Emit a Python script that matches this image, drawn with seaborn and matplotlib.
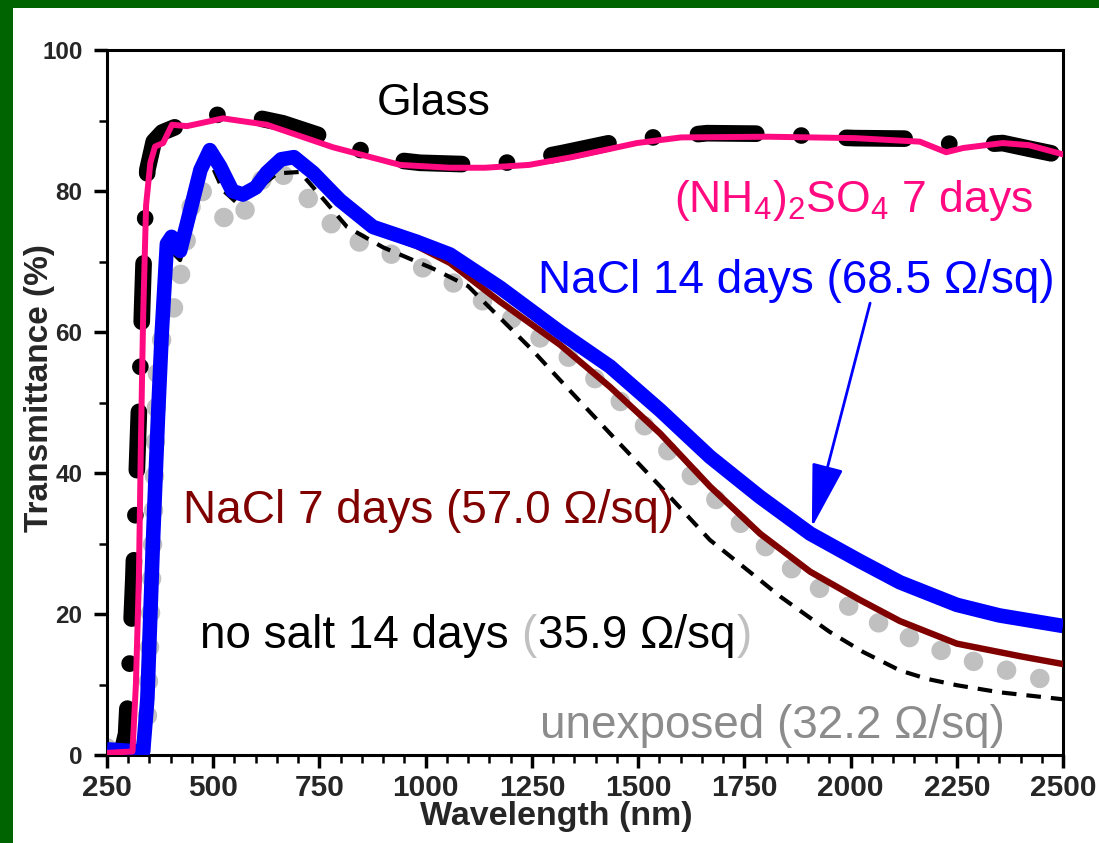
import matplotlib
matplotlib.use("Agg")
import matplotlib.pyplot as plt
from matplotlib.ticker import MultipleLocator
from matplotlib.patches import Rectangle
import numpy as np
import pandas as pd
import seaborn as sns

# ---------------- data ----------------
glass_wl = [250, 285, 295, 305, 312, 320, 327, 333, 339, 345, 360, 380, 420, 485, 570,
            664, 805, 897, 987, 1150, 1238, 1323, 1488, 1580, 1662, 1836, 1919, 2010,
            2173, 2260, 2358, 2420, 2500]
glass_T = [0.3, 0.5, 3, 15, 25, 40, 52, 64, 75, 83, 87, 88.3, 89.3, 90.8, 90.8,
           89.6, 86.8, 84.6, 84.0, 83.7, 84.4, 85.4, 87.5, 87.7, 88.2, 88.1, 87.7, 87.5,
           87.4, 86.4, 86.8, 86.0, 85.0]

nh4_wl = [250, 310, 318, 325, 330, 335, 342, 352, 363, 382, 403, 438, 523, 626, 782,
          940, 1057, 1140, 1243, 1344, 1497, 1601, 1806, 2010, 2163, 2225, 2265, 2358,
          2420, 2500]
nh4_T = [0.3, 0.5, 10, 25, 45, 62, 78, 84, 86.3, 86.8, 89.4, 89.2, 90.3, 89.4, 86.2,
         83.7, 83.3, 83.3, 83.7, 84.8, 86.8, 87.6, 87.7, 87.5, 87.0, 85.5, 86.1, 86.8,
         86.5, 85.2]

nacl14_wl = [250, 300, 335, 345, 358, 370, 379, 391, 402, 422, 445, 470, 492, 516, 545,
             570, 600, 626, 660, 690, 735, 798, 876, 979, 1057, 1175, 1316, 1434, 1552,
             1669, 1787, 1905, 2022, 2116, 2250, 2350, 2500]
nacl14_T = [0.8, 0.6, 0.5, 8, 30, 48, 60, 72.5, 73.5, 71.5, 77, 83, 85.8, 83.5, 80,
            79.5, 80.5, 82.6, 84.5, 84.8, 82.6, 78.7, 74.9, 72.8, 71.0, 66.3, 60.0, 55.1, 48.9,
            42.3, 36.6, 31.4, 27.5, 24.5, 21.3, 19.8, 18.3]

nacl7_wl = [250, 300, 335, 345, 358, 370, 379, 391, 402, 422, 445, 470, 492, 516, 545,
            570, 600, 626, 660, 690, 735, 798, 876, 979, 1057, 1175, 1316, 1434, 1552,
            1669, 1787, 1905, 2022, 2116, 2250, 2400, 2500]
nacl7_T = [0.6, 0.5, 0.4, 7, 29, 47, 59, 72, 73, 71, 76.6, 82.6, 85.4, 83.1, 79.6,
           79.1, 80.1, 82.2, 84.1, 84.4, 82.2, 78.3, 74.5, 72.2, 69.8, 64.3, 58.2, 52.2, 45.6,
           38.1, 31.4, 26.0, 22.0, 19.0, 15.8, 14.0, 12.9]

nosalt_wl = [250, 330, 345, 358, 370, 380, 390, 400, 422, 445, 470, 492, 523, 556, 600,
             650, 704, 750, 815, 900, 1017, 1100, 1175, 1250, 1316, 1434, 1552, 1669, 1787,
             1834, 1950, 2030, 2116, 2180, 2250, 2350, 2500]
nosalt_T = [0.5, 0.5, 6, 28, 48, 62, 70, 71.5, 70.2, 75.5, 82, 84.3, 80.1, 78.3, 80,
            82.5, 82.7, 79.5, 74.9, 72.0, 69.0, 66.5, 62.0, 57.5, 53.2, 45.6, 38.1, 30.5, 24.8,
            22.5, 17.5, 14.6, 12.0, 10.8, 9.9, 8.9, 7.9]

unexp_wl = [250, 330, 345, 355, 370, 385, 403, 417, 434, 441, 462, 497, 551, 587, 634,
            704, 751, 810, 874, 950, 1050, 1200, 1363, 1481, 1535, 1591, 1646, 1709, 1763,
            1827, 1888, 1952, 2029, 2109, 2180, 2253, 2335, 2417, 2500]
unexp_T = [1.0, 0.8, 5, 25, 57.4, 60, 62.4, 66.4, 71.2, 76.1, 81.1, 77.7, 74.9, 78.5, 83.7,
           80.4, 76.9, 73.5, 72.1, 70.3, 67.5, 62.0, 55.3, 48.9, 45.4, 41.8, 38.3, 34.8, 31.5,
           28.1, 25.1, 22.7, 19.9, 17.4, 15.6, 13.9, 12.5, 11.3, 10.0]

x_ticks = [250, 500, 750, 1000, 1250, 1500, 1750, 2000, 2250, 2500]
y_ticks = [0, 20, 40, 60, 80, 100]

label_glass = "Glass"
label_nh4 = r"(NH$_\mathregular{4}$)$_\mathregular{2}$SO$_\mathregular{4}$ 7 days"
label_nacl14 = "NaCl 14 days (68.5 \u03A9/sq)"
label_nacl7 = "NaCl 7 days (57.0 \u03A9/sq)"
label_nosalt_a = "no salt 14 days"
label_nosalt_b = "35.9 \u03A9/sq"
label_unexp = "unexposed (32.2 \u03A9/sq)"

# ---------------- style ----------------
sns.set_style("ticks")
plt.rcParams["font.family"] = ["Liberation Sans", "DejaVu Sans"]
plt.rcParams["mathtext.fontset"] = "custom"
plt.rcParams["mathtext.rm"] = "Liberation Sans"
plt.rcParams["mathtext.it"] = "Liberation Sans:italic"
plt.rcParams["mathtext.bf"] = "Liberation Sans:bold"

W, H = 1099, 843
fig = plt.figure(figsize=(W / 100, H / 100), dpi=100)
fig.patch.set_facecolor("#006400")
fig.add_artist(Rectangle((13 / W, 0), 1 - 13 / W, (H - 8) / H, transform=fig.transFigure,
                         facecolor="white", edgecolor="none", zorder=-5))

ax = fig.add_axes([107 / W, (H - 755) / H, 956 / W, 705 / H])
ax.set_facecolor("white")

PINK = "#ff0a80"
DARKRED = "#800000"
LGRAY = "#c0c0c0"
TGRAY = "#8c8c8c"

sns.lineplot(x=unexp_wl, y=unexp_T, ax=ax, color=LGRAY, linewidth=14,
             linestyle=(0, (0.01, 1.75)), dash_capstyle="round", zorder=2)
sns.lineplot(x=glass_wl, y=glass_T, ax=ax, color="black", linewidth=12,
             linestyle=(0, (3.5, 2.7, 0.01, 2.7)), dash_capstyle="round", zorder=3)
sns.lineplot(x=nosalt_wl, y=nosalt_T, ax=ax, color="black", linewidth=3,
             linestyle=(0, (3.5, 2.4)), zorder=4)
sns.lineplot(x=nacl7_wl, y=nacl7_T, ax=ax, color=DARKRED, linewidth=4.6, zorder=5)
sns.lineplot(x=nacl14_wl, y=nacl14_T, ax=ax, color="blue", linewidth=10.5,
             solid_capstyle="butt", zorder=6)
sns.lineplot(x=nh4_wl, y=nh4_T, ax=ax, color=PINK, linewidth=4.3, zorder=7)

ax.set_xlim(250, 2500)
ax.set_ylim(0, 100)
ax.set_xticks(x_ticks)
ax.set_yticks(y_ticks)
ax.xaxis.set_minor_locator(MultipleLocator(50))
ax.yaxis.set_minor_locator(MultipleLocator(10))
for s in ax.spines.values():
    s.set_visible(True)
    s.set_linewidth(2.2)
    s.set_color("black")
ax.tick_params(which="major", direction="out", length=9.7, width=2.5, color="black",
               top=False, right=False)
ax.tick_params(which="minor", direction="out", length=5.8, width=1.8, color="black",
               top=False, right=False)
ax.tick_params(axis="x", which="major", labelsize=21.5, pad=4)
ax.tick_params(axis="y", which="major", labelsize=17.5, pad=8)
for lab in ax.get_xticklabels() + ax.get_yticklabels():
    lab.set_fontweight("bold")

ax.set_xlabel("Wavelength (nm)", fontsize=24.5, fontweight="bold")
ax.set_ylabel("Transmittance (%)", fontsize=24, fontweight="bold")
ax.xaxis.set_label_coords(0.4695, -0.0655)
ax.yaxis.set_label_coords(-0.0545, 0.5206)

FS = 32
FS2 = 33
ax.text(885.5, 90.78, label_glass, fontsize=FS, color="black", ha="left", va="baseline", zorder=10)
ax.text(1584.5, 77.0, label_nh4, fontsize=FS, color=PINK, ha="left", va="baseline", zorder=10)
ax.text(1264.4, 65.5, label_nacl14, fontsize=FS2, color="blue", ha="left", va="baseline", zorder=10)
ax.text(428.9, 32.9, label_nacl7, fontsize=FS2, color=DARKRED, ha="left", va="baseline", zorder=10)
t1 = ax.text(468.9, 15.2, label_nosalt_a, fontsize=FS2, color="black", ha="left", va="baseline", zorder=10)
t2 = ax.annotate("(", xy=(1, 0), xycoords=t1, xytext=(0.278 * FS2, 0), textcoords="offset points",
                 fontsize=FS2, color=LGRAY, ha="left", va="bottom", zorder=10)
t3 = ax.annotate(label_nosalt_b, xy=(1, 0), xycoords=t2, xytext=(1, 0), textcoords="offset points",
                 fontsize=FS2, color="black", ha="left", va="bottom", zorder=10)
ax.annotate(")", xy=(1, 0), xycoords=t3, xytext=(1, 0), textcoords="offset points",
            fontsize=FS2, color=LGRAY, ha="left", va="bottom", zorder=10)
ax.text(1269.1, 2.4, label_unexp, fontsize=FS2, color=TGRAY, ha="left", va="baseline", zorder=10)

ax.annotate("", xy=(1909, 32.3), xytext=(2046, 64.1),
            arrowprops=dict(arrowstyle="-|>,head_length=2.0,head_width=0.5",
                            mutation_scale=20, color="blue", lw=2,
                            shrinkA=0, shrinkB=0), zorder=11)

fig.savefig("out.png", dpi=100, facecolor=fig.get_facecolor())
